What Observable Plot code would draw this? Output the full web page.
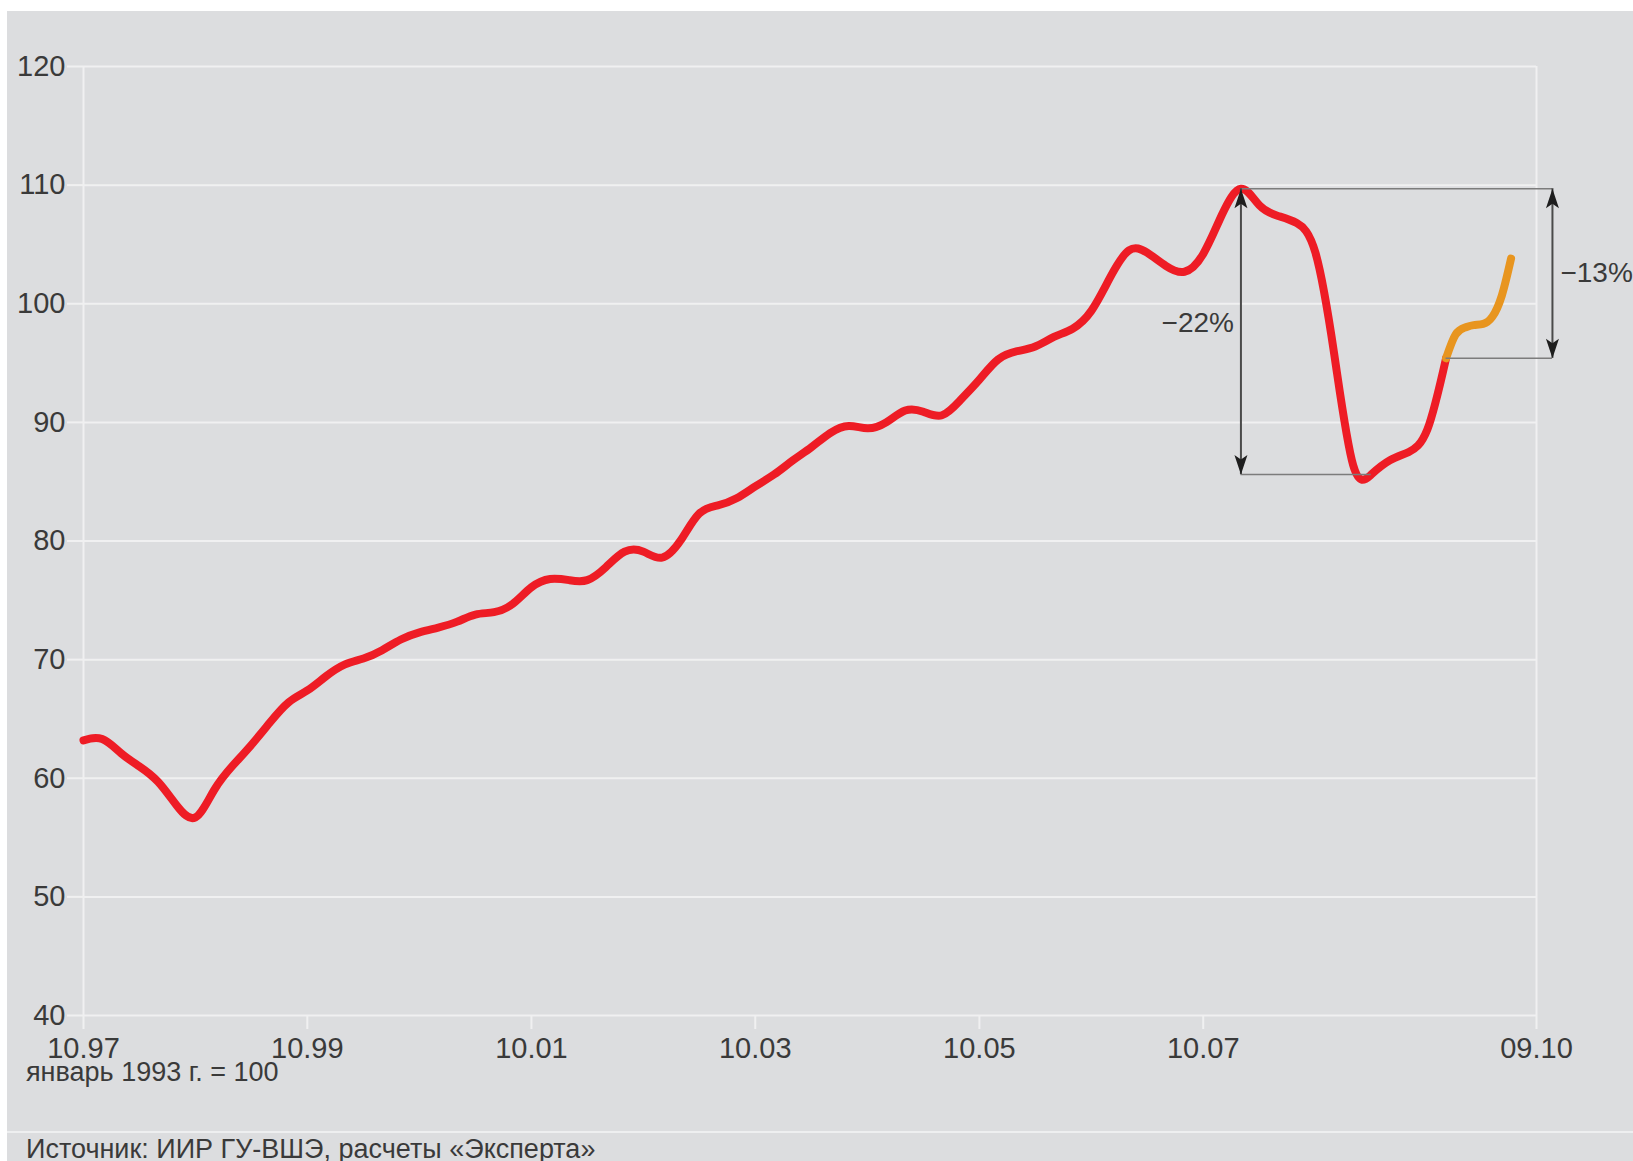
<!DOCTYPE html>
<html><head><meta charset="utf-8">
<script src="https://cdn.jsdelivr.net/npm/d3@7"></script>
<script src="https://cdn.jsdelivr.net/npm/@observablehq/plot@0.6"></script>
<style>
html,body{margin:0;padding:0;background:#fff;width:1633px;height:1161px;overflow:hidden;font-family:"Liberation Sans",Arial,sans-serif;}
#panel{position:absolute;left:7px;top:11px;width:1626px;height:1150px;background:#dcdddf;}
#chart{position:absolute;left:0;top:0;}
#base{position:absolute;left:26px;top:1057px;font-size:27px;color:#3a3a3a;white-space:nowrap;}
#sep{position:absolute;left:7px;top:1131px;width:1626px;height:2px;background:#eeeff0;}
#source{position:absolute;left:26px;top:1134px;font-size:27px;color:#3a3a3a;white-space:nowrap;}
</style></head>
<body>
<div id="panel"></div>
<div id="chart"></div>
<div id="base">январь 1993 г. = 100</div>
<div id="sep"></div>
<div id="source">Источник: ИИР ГУ-ВШЭ, расчеты «Эксперта»</div>
<script>
// Index of industrial production, January 1993 = 100, read every two months from 10.1997
const months = ["1997-10","1997-12","1998-02","1998-04","1998-06","1998-08","1998-10","1998-12",
"1999-02","1999-04","1999-06","1999-08","1999-10","1999-12","2000-02","2000-04","2000-06","2000-08","2000-10","2000-12",
"2001-02","2001-04","2001-06","2001-08","2001-10","2001-12","2002-02","2002-04","2002-06","2002-08","2002-10","2002-12",
"2003-02","2003-04","2003-06","2003-08","2003-10","2003-12","2004-02","2004-04","2004-06","2004-08","2004-10","2004-12",
"2005-02","2005-04","2005-06","2005-08","2005-10","2005-12","2006-02","2006-04","2006-06","2006-08","2006-10","2006-12",
"2007-02","2007-04","2007-06","2007-08","2007-10","2007-12","2008-02","2008-04","2008-06","2008-08","2008-10","2008-12",
"2009-02","2009-04","2009-06","2009-08","2009-10","2009-12"];
const values = [63.2,63.3,62.1,61.0,59.7,57.7,56.7,59.0,
61.1,62.8,64.7,66.4,67.4,68.6,69.6,70.1,70.8,71.7,72.3,72.7,
73.2,73.8,74.0,74.7,76.1,76.8,76.7,76.7,77.8,79.1,79.1,78.6,
80.1,82.3,83.0,83.6,84.6,85.6,86.8,87.9,89.1,89.7,89.5,90.0,
91.0,90.9,90.6,91.9,93.6,95.3,96.0,96.4,97.2,97.9,99.4,102.2,
104.5,104.3,103.2,102.7,104.2,107.5,109.7,108.3,107.4,106.8,104.3,95.8,
86.4,85.6,86.8,87.5,89.4,95.4];
// latest (preliminary) monthly segment, drawn in orange
const recentMonths = ["2009-12","2010-01","2010-02","2010-03","2010-04","2010-05","2010-06","2010-07"];
const recentValues = [95.4,97.4,98.0,98.2,98.3,98.9,100.7,103.8];

const yTicks = [40,50,60,70,80,90,100,110,120];
const xTickDates = ["1997-10-01","1999-10-01","2001-10-01","2003-10-01","2005-10-01","2007-10-01","2010-09-22"];
const xTickLabels = ["10.97","10.99","10.01","10.03","10.05","10.07","09.10"];
const markerDate = "2010-11-13"; // x of the right-hand arrow

const pm = d3.utcParse("%Y-%m");
const pd = d3.utcParse("%Y-%m-%d");
const main = months.map((m,i)=>({date:pm(m), value:values[i]}));
const recent = recentMonths.map((m,i)=>({date:pm(m), value:recentValues[i]}));
const ticks = xTickDates.map(pd);
const labelOf = new Map(ticks.map((t,i)=>[+t, xTickLabels[i]]));
const xDomain = [ticks[0], ticks[ticks.length-1]];

const peak = main.reduce((a,b)=> b.value > a.value ? b : a);
const trough = main.filter(d=>d.date > peak.date).reduce((a,b)=> b.value < a.value ? b : a);
const recStart = recent[0];
const mDate = pd(markerDate);
const fmtPct = v => (v<0?"\u2212":"") + Math.abs(v) + "%";
const drop = Math.round((trough.value/peak.value - 1)*100);
const gap = Math.round((recStart.value/peak.value - 1)*100);

const arrowUp = {draw(c,size){const s=Math.sqrt(size/Math.PI);c.moveTo(0,0);c.lineTo(-0.5*s,1.5*s);c.lineTo(0,1.15*s);c.lineTo(0.5*s,1.5*s);c.closePath();}};
const arrowDown = {draw(c,size){const s=Math.sqrt(size/Math.PI);c.moveTo(0,0);c.lineTo(-0.5*s,-1.5*s);c.lineTo(0,-1.15*s);c.lineTo(0.5*s,-1.5*s);c.closePath();}};

const grid = "#f0f0f1", ink = "#3a3a3a", annot = "#7c7c7c";
const font = "Liberation Sans, Arial, sans-serif";

const chart = Plot.plot({
  width: 1633, height: 1100,
  marginLeft: 83, marginRight: 97, marginTop: 66, marginBottom: 85,
  style: {background: "transparent", fontFamily: font, fontSize: "29px", color: ink, overflow: "visible"},
  x: {type: "utc", domain: xDomain},
  y: {domain: [40, 120]},
  marks: [
    Plot.gridY({ticks: yTicks, stroke: grid, strokeOpacity: 1, strokeWidth: 2}),
    Plot.ruleX(xDomain, {stroke: grid, strokeWidth: 2}),
    Plot.axisY({ticks: yTicks, tickSize: 16, tickPadding: 2, stroke: grid, strokeWidth: 2, fill: ink, fontSize: 29, label: null}),
    Plot.axisX({ticks: ticks, tickSize: 14, tickPadding: 8, stroke: grid, strokeWidth: 2, fill: ink, fontSize: 29,
      tickFormat: d => labelOf.get(+d), label: null}),
    Plot.line(main, {x: "date", y: "value", stroke: "#ee1c25", strokeWidth: 8, curve: "natural"}),
    Plot.line(recent, {x: "date", y: "value", stroke: "#e8951f", strokeWidth: 8, curve: "natural"}),
    // annotation guide lines
    Plot.ruleY([peak], {x1: peak.date, x2: mDate, y: "value", stroke: annot, strokeWidth: 1.5}),
    Plot.ruleY([trough], {x1: peak.date, x2: trough.date, y: "value", stroke: annot, strokeWidth: 1.5}),
    Plot.ruleY([recStart], {x1: recStart.date, x2: mDate, y: "value", stroke: annot, strokeWidth: 1.5}),
    Plot.ruleX([peak], {x: "date", y1: trough.value, y2: peak.value, stroke: "#4a4a4a", strokeWidth: 2}),
    Plot.ruleX([mDate], {x: d => d, y1: recStart.value, y2: peak.value, stroke: "#4a4a4a", strokeWidth: 2}),
    Plot.dot([{x: peak.date, y: peak.value}, {x: mDate, y: peak.value}], {x: "x", y: "y", symbol: arrowUp, r: 13, fill: "#1e1e1e", stroke: "none"}),
    Plot.dot([{x: peak.date, y: trough.value}, {x: mDate, y: recStart.value}], {x: "x", y: "y", symbol: arrowDown, r: 13, fill: "#1e1e1e", stroke: "none"}),
    Plot.text([fmtPct(drop)], {x: peak.date, y: (peak.value + trough.value)/2, text: d => d, textAnchor: "end", dx: -7, dy: -9, fontSize: 28, fill: ink}),
    Plot.text([fmtPct(gap)], {x: mDate, y: (peak.value + recStart.value)/2, text: d => d, textAnchor: "start", dx: 8, fontSize: 28, fill: ink})
  ]
});
document.getElementById("chart").appendChild(chart);
</script>
</body></html>
